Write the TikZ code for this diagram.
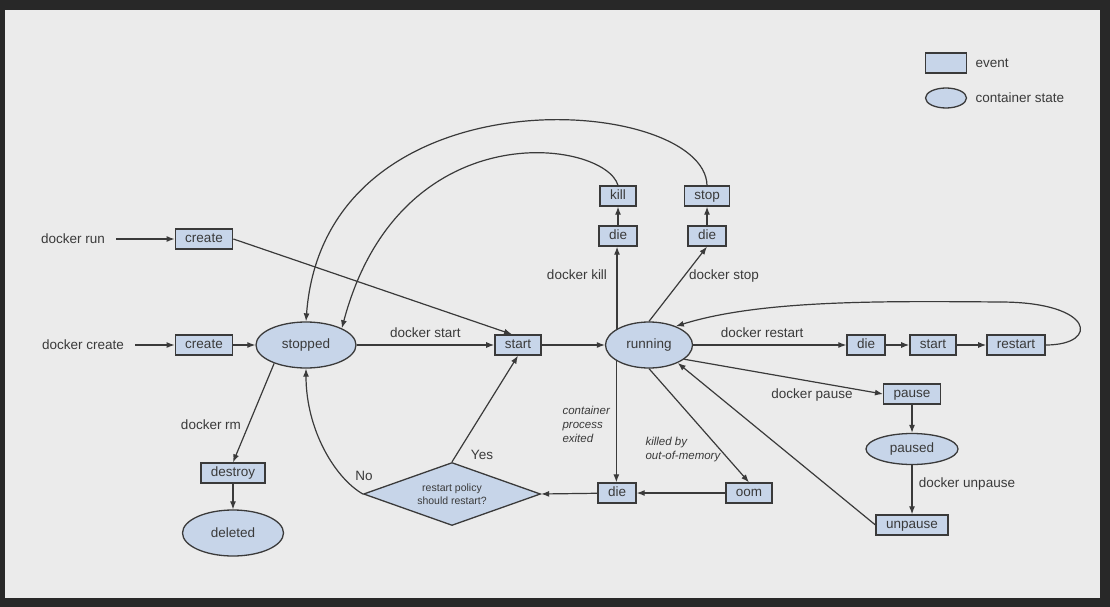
\documentclass[tikz,border=0pt]{standalone}
\usepackage{fontspec}
\setmainfont{Liberation Sans}
\usepackage{tikz}
\usetikzlibrary{shapes,arrows.meta,positioning,calc}
\definecolor{panelgray}{RGB}{235,235,235}
\definecolor{framegray}{RGB}{40,40,40}
\definecolor{boxblue}{RGB}{199,213,233}
\definecolor{inkgray}{RGB}{58,58,58}

\begin{document}
\begin{tikzpicture}[x=1pt, y=-1pt,
    every node/.style={text=inkgray, font=\fontsize{13.5}{15}\selectfont},
    event/.style={rectangle, draw=inkgray, fill=boxblue, line width=1.3pt,
        minimum height=20pt, inner xsep=10pt, inner ysep=0pt, text height=10pt, text depth=3pt},
    state/.style={ellipse, draw=inkgray, fill=boxblue, line width=1.3pt, inner sep=0pt},
    note/.style={font=\fontsize{11.5}{14}\selectfont\itshape, align=left, anchor=west},
    flow/.style={draw=inkgray, line width=1.2pt, -{Latex[length=8pt,width=6pt]}},
    plain/.style={draw=inkgray, line width=1.2pt}]

    % Screen frame
    \fill[framegray] (0,0) rectangle (1110,607);
    \fill[panelgray] (5,10) rectangle (1100,598);

    % Legend
    \node[event, minimum width=41pt] (legevent) at (946,63) {};
    \node[anchor=west] (legeventtxt) at (972,63) {event};
    \node[state, minimum width=41pt, minimum height=20pt] (legstate) at (946,98) {};
    \node[anchor=west] (legstatetxt) at (972,98) {container state};

    % Commands
    \node (cmdrun) at (73,239) {docker run};
    \node (cmdcreate) at (83,345) {docker create};

    % Events and states
    \node[event] (createrun) at (204,239) {create};
    \node[event] (createcr) at (204,345) {create};
    \node[state, minimum width=100pt, minimum height=46pt] (stopped) at (306,345) {stopped};
    \node[event] (start) at (518,345) {start};
    \node[state, minimum width=87pt, minimum height=46pt] (running) at (649,345) {running};
    \node[event] (killdie) at (618,236) {die};
    \node[event] (kill) at (618,196) {kill};
    \node[event] (stopdie) at (707,236) {die};
    \node[event] (stop) at (707,196) {stop};
    \node[event] (rdie) at (866,345) {die};
    \node[event] (rstart) at (933,345) {start};
    \node[event] (restart) at (1016,345) {restart};
    \node[event] (pause) at (912,394) {pause};
    \node[state, minimum width=92pt, minimum height=31pt] (paused) at (912,449) {paused};
    \node[event] (unpause) at (912,525) {unpause};
    \node[event] (exitdie) at (617,493) {die};
    \node[event] (oom) at (749,493) {oom};
    \node[diamond, draw=inkgray, fill=boxblue, line width=1.3pt, inner sep=0pt, shape aspect=2.8,
        minimum width=177pt, minimum height=63pt, align=center,
        font=\fontsize{10.5}{12.5}\selectfont] (policy) at (452,494) {restart policy\\should restart?};
    \node[event] (destroy) at (233,473) {destroy};
    \node[state, minimum width=101pt, minimum height=46pt] (deleted) at (233,533) {deleted};

    % Labels
    \node (lblkill) at (577,275) {docker kill};
    \node (lblstop) at (724,276) {docker stop};
    \node (lblpause) at (812,395) {docker pause};
    \node (lblunpause) at (967,484) {docker unpause};
    \node (lblrm) at (211,425) {docker rm};
    \node (lblyes) at (482,455) {Yes};
    \node (lblno) at (364,476) {No};
    \node[note] (lblexit) at (559,424) {container\\process\\exited};
    \node[note] (lbloom) at (642,450) {killed by\\out-of-memory};

    % Straight transitions
    \foreach \a/\b in {createcr/stopped, start/running, killdie/kill, stopdie/stop,
                       rdie/rstart, rstart/restart, pause/paused, paused/unpause,
                       oom/exitdie, destroy/deleted} {
        \draw[flow] (\a) -- (\b);
    }
    \draw[flow, shorten <=8pt] (cmdrun) -- (createrun);
    \draw[flow, shorten <=8pt] (cmdcreate) -- (createcr);
    \draw[flow] (createrun.east) -- ([xshift=-6pt]start.north);
    \draw[flow] (stopped) -- node[above=3pt] (lblstart) {docker start} (start);
    \draw[flow] (running) -- node[above=3pt, pos=0.45] (lblrestart) {docker restart} (rdie);
    \draw[flow] (running.153) -- (running.153 |- killdie.south);
    \draw[flow] (running.north) -- (stopdie.south);
    \draw[flow] (running.-22) -- (pause.west);
    \draw[flow] (unpause.west) -- (running.-32);
    \draw[flow] (running.206) -- (running.206 |- exitdie.north);
    \draw[flow] (running.south) -- (oom.north);
    \draw[flow] (exitdie) -- (policy.east);
    \draw[flow] (policy.north) -- (start.south);
    \draw[flow] (stopped.210) -- (destroy.north);

    % Curved transitions
    \draw[flow] (policy.west) .. controls (335,478) and (306,430) .. (stopped.south);
    \draw[flow] (kill.north) .. controls (605,140) and (400,110) .. (stopped.25);
    \draw[flow] (stop.north) .. controls (705,95) and (325,65) .. (stopped.north);
    \coordinate (looptop) at (1000,302);
    \draw[plain] (restart.east) .. controls (1100,345) and (1095,302) .. (looptop);
    \draw[flow] (looptop) .. controls (880,301) and (760,300) .. (running.35);
\end{tikzpicture}
\end{document}
